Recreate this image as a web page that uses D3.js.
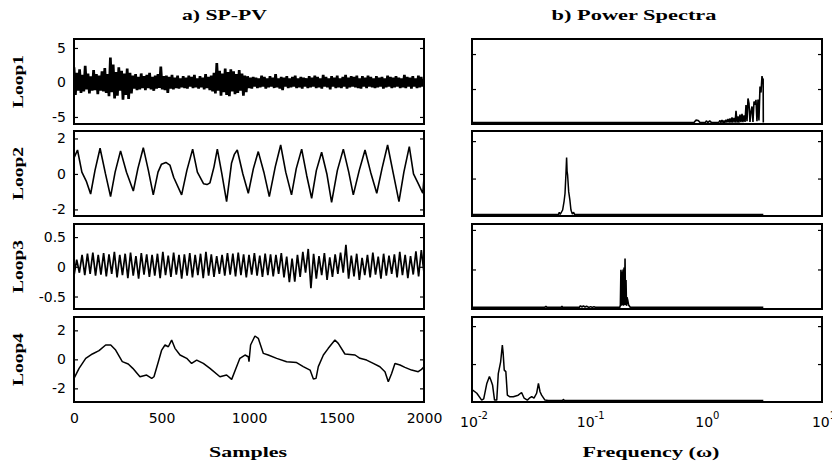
<!DOCTYPE html>
<html>
<head>
<meta charset="utf-8">
<script src="https://d3js.org/d3.v7.min.js"></script>
<style>
    body { margin: 0; background: #fff; }
</style>
</head>
<body>
<div id="chart"></div>
<script>

// ---- data ----

// Loop1: one value every 8 samples (0..2000)
var loop1Values = [
    2.2, -1.8, 1.4, -1.2, 1.9, -1.5, 1.1, -1.3, 2.4, -1.0,
    1.3, -1.6, 0.9, -1.2, 1.8, -1.1, 1.2, -1.7, 1.0, -1.2,
    1.6, -1.3, 2.1, -1.5, 1.2, -2.0, 3.6, -1.4, 2.6, -2.3,
    1.5, -1.9, 2.2, -1.2, 1.7, -2.5, 1.3, -1.8, 2.0, -2.4,
    1.4, -1.6, 1.0, -0.9, 1.2, -1.1, 0.8, -1.0, 1.3, -0.8,
    0.9, -1.1, 1.1, -0.8, 1.4, -1.0, 0.8, -1.2, 1.0, -0.9,
    1.2, -0.8, 2.3, -1.0, 0.9, -1.1, 1.0, -1.5, 0.8, -0.9,
    1.1, -1.0, 0.7, -0.8, 1.0, -0.9, 0.6, -0.7, 0.9, -0.8,
    0.7, -0.9, 1.0, -0.6, 0.8, -0.8, 1.1, -0.7, 0.6, -0.9,
    0.9, -0.7, 0.7, -1.0, 1.2, -0.8, 0.8, -1.1, 1.0, -1.3,
    1.4, -1.6, 2.8, -1.2, 1.7, -1.9, 1.3, -1.4, 2.0, -1.8,
    1.5, -2.0, 1.9, -1.3, 1.6, -1.7, 1.2, -1.5, 1.8, -1.2,
    1.3, -1.9, 1.0, -1.4, 0.9, -0.8, 0.7, -0.9, 0.8, -0.6,
    0.7, -0.8, 0.6, -0.7, 1.0, -0.6, 0.8, -0.9, 0.6, -0.7,
    0.9, -0.6, 0.7, -0.8, 1.2, -0.7, 0.6, -0.9, 0.8, -1.1,
    0.7, -0.6, 0.9, -0.8, 0.6, -0.7, 0.8, -0.6, 1.0, -0.8,
    0.6, -0.7, 0.8, -0.9, 0.7, -0.6, 0.6, -0.8, 0.9, -0.7,
    0.7, -0.6, 1.0, -0.8, 0.8, -0.7, 0.6, -0.9, 1.1, -0.6,
    0.8, -0.7, 0.6, -1.0, 0.9, -0.6, 0.7, -0.8, 1.0, -0.7,
    0.6, -0.8, 0.8, -0.6, 1.1, -0.9, 0.7, -0.7, 0.9, -0.6,
    0.8, -0.7, 1.0, -0.8, 0.6, -0.9, 0.9, -0.6, 0.7, -0.8,
    1.0, -0.6, 0.8, -0.7, 0.6, -0.8, 0.9, -0.7, 0.7, -0.6,
    0.8, -0.9, 0.6, -0.7, 1.0, -0.6, 0.8, -0.8, 0.7, -0.7,
    0.9, -0.6, 0.7, -0.8, 0.6, -0.7, 1.1, -0.8, 0.8, -0.6,
    0.7, -0.9, 0.9, -0.6, 0.6, -0.8, 1.0, -0.7, 0.8, -0.6, 0.5
];

// Loop2: turning points
var loop2Samples = [0, 20, 45, 70, 95, 120, 149, 180, 209, 235, 266, 300, 339, 365, 396, 425, 453, 480, 500, 525,
    548, 570, 615, 645, 678, 705, 740, 760, 777, 800, 819, 845, 872, 900, 916, 933, 965, 996, 1025, 1053,
    1085, 1116, 1150, 1181, 1210, 1243, 1270, 1301, 1330, 1358, 1385, 1415, 1445, 1472, 1505, 1539, 1570, 1596, 1630, 1663,
    1695, 1730, 1760, 1792, 1825, 1857, 1885, 1916, 1940, 1970, 1993, 2000];
var loop2Values = [0.9, 1.35, 0.1, -0.4, -1.13, 0.2, 1.45, 0.0, -1.28, 0.1, 1.3, 0.1, -0.96, 0.3, 1.48, 0.2, -1.18, 0.1, 0.55, 0.65,
    0.5, -0.2, -1.18, 0.2, 1.4, 0.1, -0.55, -0.6, -0.5, 0.4, 1.4, 0.0, -1.56, 0.6, 1.1, 1.35, 0.0, -1.09, 0.3, 1.26,
    0.1, -1.28, 0.4, 1.63, 0.1, -1.18, 0.3, 1.4, -0.1, -1.37, 0.2, 1.22, 0.0, -1.6, 0.2, 1.4, 0.1, -1.18, 0.2, 1.35,
    0.1, -1.09, 0.3, 1.63, 0.0, -1.56, 0.1, 1.54, 0.0, -0.6, -1.09, -0.25];

// Loop3: alternating extremes, evenly spaced over 0..2000
var loop3Values = [
    -0.15, 0.12, -0.1, 0.2, -0.14, 0.22, -0.12, 0.24, -0.15, 0.2,
    -0.13, 0.23, -0.16, 0.21, -0.12, 0.25, -0.18, 0.2, -0.14, 0.22,
    -0.19, 0.24, -0.15, 0.18, -0.2, 0.23, -0.13, 0.21, -0.17, 0.2,
    -0.15, 0.22, -0.19, 0.25, -0.14, 0.19, -0.17, 0.24, -0.13, 0.2,
    -0.2, 0.21, -0.15, 0.23, -0.18, 0.2, -0.14, 0.22, -0.19, 0.25,
    -0.15, 0.21, -0.17, 0.18, -0.12, 0.2, -0.15, 0.23, -0.13, 0.22,
    -0.16, 0.24, -0.14, 0.21, -0.18, 0.2, -0.13, 0.23, -0.15, 0.19,
    -0.17, 0.22, -0.14, 0.21, -0.16, 0.2, -0.12, 0.23, -0.18, 0.17,
    -0.26, 0.14, -0.25, 0.2, -0.17, 0.25, -0.1, 0.3, -0.36, 0.22,
    -0.2, 0.18, -0.14, 0.23, -0.22, 0.16, -0.17, 0.21, -0.12, 0.24,
    -0.1, 0.37, -0.2, 0.19, -0.16, 0.22, -0.22, 0.15, -0.14, 0.2,
    -0.18, 0.24, -0.13, 0.17, -0.2, 0.22, -0.15, 0.19, -0.12, 0.21,
    -0.18, 0.25, -0.14, 0.2, -0.19, 0.18, -0.13, 0.26, -0.16, 0.28,
    -0.1
];

// Loop4: turning points
var loop4Samples = [0, 29, 67, 105, 143, 181, 210, 238, 276, 310, 336, 377, 415, 444, 457, 482, 501, 520, 539, 558,
    577, 606, 644, 672, 701, 739, 777, 834, 872, 901, 929, 948, 977, 996, 1000, 1009, 1034, 1053, 1082, 1110,
    1158, 1215, 1272, 1310, 1349, 1368, 1383, 1396, 1425, 1453, 1491, 1510, 1548, 1606, 1634, 1672, 1710, 1748, 1777, 1796,
    1815, 1834, 1863, 1891, 1929, 1967, 1986, 2000];
var loop4Values = [-1.31, -0.62, 0.07, 0.37, 0.6, 0.99, 0.99, 0.64, -0.16, -0.32, -0.62, -1.2, -1.08, -1.31, -1.2, -0.16, 0.64, 0.99, 0.87, 1.33,
    0.76, 0.3, 0.07, -0.28, -0.05, -0.28, -0.62, -1.2, -1.08, -1.38, -0.51, 0.07, 0.3, 0.18, -0.16, 0.99, 1.61, 1.45, 0.41, 0.3,
    0.07, -0.16, -0.22, -0.5, -0.74, -1.36, -1.31, -0.5, 0.3, 0.76, 1.33, 1.1, 0.37, 0.3, 0.07, -0.05, -0.28, -0.51, -0.85, -1.54,
    -0.97, -0.28, -0.39, -0.55, -0.74, -0.85, -0.69, -0.51];

// power spectra (frequency in rad/sample, relative power)
var spec1Freq = [0.01, 0.6, 0.8, 0.83, 0.87, 0.9, 1.0, 1.02, 1.05, 1.09, 1.13, 1.3, 1.336, 1.36, 1.389, 1.42, 1.445, 1.47, 1.503, 1.53,
    1.564, 1.6, 1.627, 1.66, 1.693, 1.72, 1.761, 1.8, 1.832, 1.87, 1.905, 1.94, 1.982, 2.02, 2.062, 2.1, 2.145, 2.19, 2.231, 2.276,
    2.321, 2.367, 2.414, 2.46, 2.512, 2.56, 2.613, 2.665, 2.718, 2.77, 2.827, 2.88, 2.942, 3.0, 3.06, 3.1, 3.13, 3.14];
var spec1Power = [0.04, 0.04, 0.04, 0.11, 0.1, 0.04, 0.04, 0.09, 0.04, 0.09, 0.04, 0.04, 0.1, 0.04, 0.11, 0.04, 0.1, 0.04, 0.12, 0.04,
    0.14, 0.04, 0.16, 0.04, 0.19, 0.04, 0.17, 0.04, 0.38, 0.04, 0.22, 0.04, 0.27, 0.05, 0.29, 0.05, 0.25, 0.06, 0.54, 0.08,
    0.73, 0.59, 0.06, 0.35, 0.5, 0.06, 0.64, 0.55, 0.69, 0.08, 0.7, 0.1, 1.07, 0.9, 1.37, 1.26, 1.3, 0.04];

var spec2Freq = [0.01, 0.055, 0.056, 0.057, 0.0598, 0.0616, 0.0627, 0.0639, 0.0647, 0.0653, 0.066, 0.0674, 0.069, 0.0705, 0.0725, 0.074, 0.076, 3.14];
var spec2Power = [0.04, 0.04, 0.1, 0.04, 0.16, 0.4, 0.6, 1.14, 1.56, 1.2, 1.09, 0.65, 0.43, 0.16, 0.05, 0.1, 0.04, 0.04];

var spec3Freq = [0.01, 0.042, 0.043, 0.044, 0.058, 0.059, 0.06, 0.083, 0.085, 0.088, 0.09, 0.093, 0.096, 0.1, 0.104, 0.108, 0.111, 0.114,
    0.185, 0.187, 0.189, 0.191, 0.193, 0.195, 0.197, 0.199, 0.201, 0.203, 0.205, 0.207, 0.209, 0.211, 0.213, 0.216, 0.22, 0.224, 0.228, 3.14];
var spec3Power = [0.04, 0.04, 0.07, 0.04, 0.04, 0.07, 0.04, 0.04, 0.08, 0.05, 0.08, 0.05, 0.07, 0.04, 0.06, 0.04, 0.06, 0.04,
    0.04, 0.1, 0.99, 0.08, 0.95, 0.1, 1.0, 0.08, 1.05, 0.1, 1.28, 0.1, 0.73, 0.08, 0.3, 0.23, 0.1, 0.07, 0.04, 0.04];

var spec4Freq = [0.01, 0.011, 0.0121, 0.0126, 0.0134, 0.0141, 0.0145, 0.015, 0.0156, 0.0163, 0.0168, 0.0176, 0.0182, 0.0185, 0.0189, 0.0195,
    0.0201, 0.021, 0.0226, 0.0249, 0.0266, 0.028, 0.0298, 0.031, 0.0325, 0.034, 0.0358, 0.0371, 0.0383, 0.0395, 0.0422, 0.045,
    0.06, 0.0606, 0.062, 3.14];
var spec4Power = [0.33, 0.23, 0.05, 0.08, 0.49, 0.67, 0.58, 0.45, 0.05, 0.05, 0.75, 1.06, 1.5, 1.28, 0.84, 0.8,
    0.18, 0.14, 0.14, 0.18, 0.25, 0.1, 0.05, 0.1, 0.14, 0.1, 0.23, 0.49, 0.27, 0.18, 0.05, 0.04,
    0.04, 0.07, 0.04, 0.04];

var loopNames = ["Loop1", "Loop2", "Loop3", "Loop4"];
var loopYTicks = [[-5, 0, 5], [-2, 0, 2], [-0.5, 0, 0.5], [-2, 0, 2]];
var loopYDomains = [[-6.02, 6.3], [-2.37, 2.42], [-0.71, 0.72], [-2.94, 2.92]];
var specYTicks = [1, 2];
var specYDomains = [[0, 2.43], [0, 2.27], [0, 2.15], [0, 2.24]];
var sampleTicks = [0, 500, 1000, 1500, 2000];
var freqTicks = [0.01, 0.1, 1, 10];
var freqExponents = ["-2", "-1", "0", "1"];


// ---- layout ----
var width = 832, height = 470;
var rowTops = [39, 131, 224, 317], rowH = 85;
var leftX0 = 74, leftX1 = 424, rightX0 = 472, rightX1 = 822;
var loopStroke = [2.7, 1.6, 1.7, 1.5];
var specStroke = [1.6, 1.5, 1.6, 1.5];

var serif = "'Liberation Serif', 'Times New Roman', serif";
var sans = "'DejaVu Sans', sans-serif";

var svg = d3.select("#chart").append("svg")
    .attr("width", width)
    .attr("height", height)
    .style("background", "#fff");

var xSamples = d3.scaleLinear().domain([0, 2000]).range([leftX0, leftX1]);
var xFreq = d3.scaleLog().domain([0.01, 10]).range([rightX0, rightX1]);

// uniform series -> points
function evenPoints(values) {
    var step = 2000 / (values.length - 1);
    return values.map(function(v, i) { return {x: i * step, y: v}; });
}
function pairPoints(xs, ys) {
    return xs.map(function(x, i) { return {x: x, y: ys[i]}; });
}

var loopSeries = [
    evenPoints(loop1Values),
    pairPoints(loop2Samples, loop2Values),
    evenPoints(loop3Values),
    pairPoints(loop4Samples, loop4Values)
];
var specSeries = [
    pairPoints(spec1Freq, spec1Power),
    pairPoints(spec2Freq, spec2Power),
    pairPoints(spec3Freq, spec3Power),
    pairPoints(spec4Freq, spec4Power)
];

var defs = svg.append("defs");

function drawPanel(id, x0, x1, top, xScale, yDomain, yTicks, points, showLabels, strokeW) {
    var y = d3.scaleLinear().domain(yDomain).range([top + rowH, top]);

    defs.append("clipPath").attr("id", id)
        .append("rect")
        .attr("x", x0).attr("y", top)
        .attr("width", x1 - x0).attr("height", rowH);

    var line = d3.line()
        .x(function(d) { return xScale(d.x); })
        .y(function(d) { return y(d.y); });

    svg.append("path")
        .datum(points)
        .attr("clip-path", "url(#" + id + ")")
        .attr("fill", "none")
        .attr("stroke", "#000")
        .attr("stroke-width", strokeW)
        .attr("stroke-linejoin", "bevel")
        .attr("d", line);

    // inward ticks on both sides
    var left = svg.append("g")
        .attr("transform", "translate(" + x0 + ",0)")
        .call(d3.axisLeft(y).tickValues(yTicks).tickSizeInner(-4).tickSizeOuter(0).tickPadding(8)
            .tickFormat(showLabels ? function(d) { return String(d); } : ""));
    var right = svg.append("g")
        .attr("transform", "translate(" + x1 + ",0)")
        .call(d3.axisRight(y).tickValues(yTicks).tickSizeInner(-4).tickSizeOuter(0).tickFormat(""));

    [left, right].forEach(function(g) {
        g.select(".domain").remove();
        g.selectAll("line").attr("stroke", "#000").attr("stroke-width", 1.2);
        g.selectAll("text")
            .attr("fill", "#000")
            .style("font-family", sans)
            .style("font-size", "14px");
    });

    svg.append("rect")
        .attr("x", x0).attr("y", top)
        .attr("width", x1 - x0).attr("height", rowH)
        .attr("fill", "none")
        .attr("stroke", "#000")
        .attr("stroke-width", 2);
}

rowTops.forEach(function(top, i) {
    drawPanel("clipL" + i, leftX0, leftX1, top, xSamples, loopYDomains[i], loopYTicks[i], loopSeries[i], true, loopStroke[i]);
    drawPanel("clipR" + i, rightX0, rightX1, top, xFreq, specYDomains[i], specYTicks, specSeries[i], false, specStroke[i]);

    svg.append("text")
        .attr("transform", "translate(23," + (top + rowH / 2) + ") rotate(-90)")
        .attr("text-anchor", "middle")
        .attr("textLength", 53)
        .attr("lengthAdjust", "spacingAndGlyphs")
        .style("font-family", serif)
        .style("font-weight", "bold")
        .style("font-size", "15px")
        .text(loopNames[i]);
});

// sample axis labels
var bottom = rowTops[3] + rowH;
var xAxis = svg.append("g")
    .attr("transform", "translate(0," + bottom + ")")
    .call(d3.axisBottom(xSamples).tickValues(sampleTicks).tickSize(0).tickPadding(11)
        .tickFormat(function(d) { return String(d); }));
xAxis.select(".domain").remove();
xAxis.selectAll("text").attr("fill", "#000").style("font-family", sans).style("font-size", "14px");

// frequency axis labels 10^n
svg.selectAll(".flabel")
    .data(freqTicks)
    .enter()
    .append("text")
    .attr("class", "flabel")
    .attr("x", function(d) { return xFreq(d) + 2; })
    .attr("y", 427)
    .attr("text-anchor", "middle")
    .style("font-family", sans)
    .style("font-size", "14px")
    .each(function(d, i) {
        var t = d3.select(this);
        t.append("tspan").text("10");
        t.append("tspan").attr("dy", -8).style("font-size", "10px").text(freqExponents[i]);
    });

// titles
function boldText(x, y, str, len) {
    svg.append("text")
        .attr("x", x).attr("y", y)
        .attr("text-anchor", "middle")
        .attr("textLength", len)
        .attr("lengthAdjust", "spacingAndGlyphs")
        .style("font-family", serif)
        .style("font-weight", "bold")
        .style("font-size", "15px")
        .text(str);
}
boldText(224.5, 20, "a) SP-PV", 85);
boldText(634, 20, "b) Power Spectra", 165);
boldText(248, 457, "Samples", 78);
boldText(651, 457, "Frequency (\u03c9)", 137);

</script>
</body>
</html>
